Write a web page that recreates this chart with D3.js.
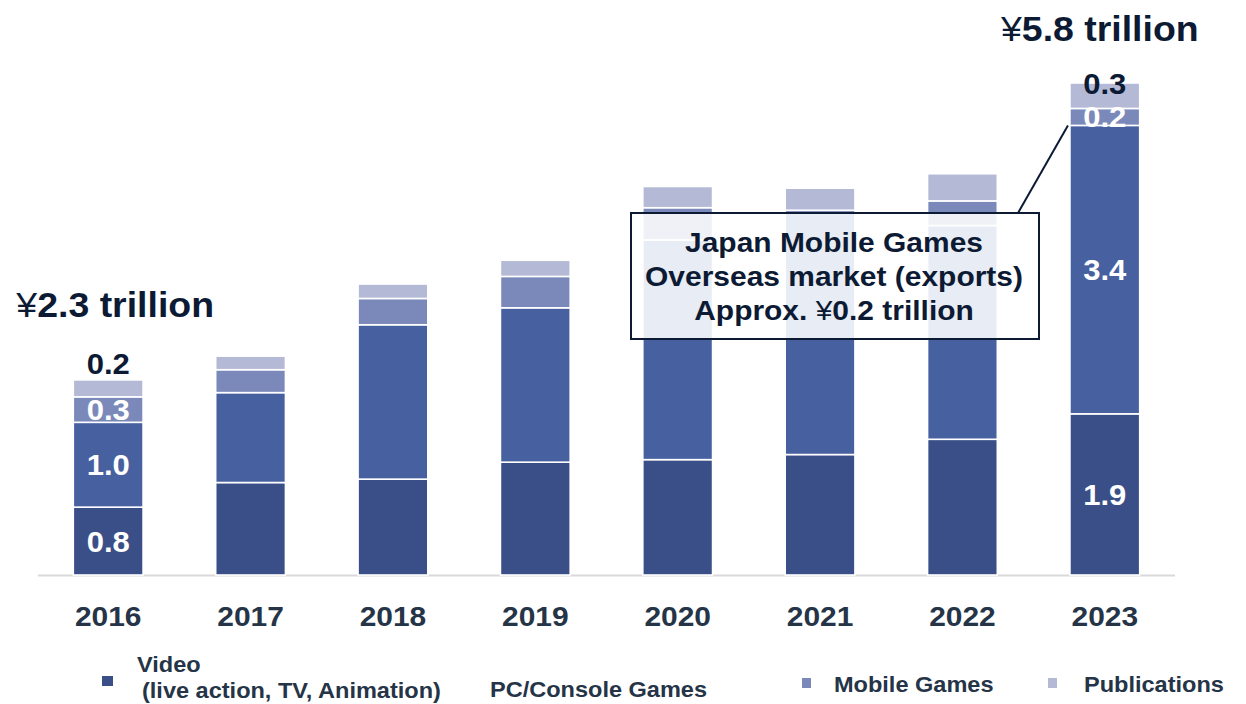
<!DOCTYPE html>
<html>
<head>
<meta charset="utf-8">
<script src="https://cdn.jsdelivr.net/npm/d3@7"></script>
<style>
  html, body { margin: 0; padding: 0; background: #fff; }
  svg { display: block; font-family: "Liberation Sans", Arial, sans-serif; }
</style>
</head>
<body>
<svg id="chart" width="1246" height="704"></svg>
<script>
// Overseas sales of Japanese content, ¥ trillion
const years = ["2016", "2017", "2018", "2019", "2020", "2021", "2022", "2023"];
const video        = [0.8, 1.09, 1.13, 1.33, 1.36, 1.42, 1.60, 1.9];
const pcConsole    = [1.0, 1.06, 1.82, 1.82, 2.59, 2.85, 2.52, 3.4];
const mobileGames  = [0.3, 0.27, 0.31, 0.37, 0.38, 0.03, 0.29, 0.2];
const publications = [0.2, 0.16, 0.17, 0.19, 0.25, 0.26, 0.32, 0.3];

const seriesKeys   = ["video", "pcConsole", "mobileGames", "publications"];
const seriesNames  = ["Video", "PC/Console Games", "Mobile Games", "Publications"];
const seriesColors = ["#3a4f87", "#4660a0", "#7b89ba", "#b4b9d5"];

const rows = years.map((y, i) => ({
  year: y,
  video: video[i],
  pcConsole: pcConsole[i],
  mobileGames: mobileGames[i],
  publications: publications[i]
}));

const svg = d3.select("#chart");
const SX = 1.07;               // slight horizontal widening of the lettering
const DARK = "#0c1a33";
const SLATE = "#253447";
const fmt = d3.format(".1f");

const x = d3.scaleBand().domain(years).range([37, 1176]).paddingInner(0.51).paddingOuter(0.255);
const y = d3.scaleLinear().domain([0, 5.8]).range([575, 83]);

const stack = d3.stack().keys(seriesKeys)(rows);

function label(x0, y0, str, size, fill, anchor) {
  return svg.append("text")
    .attr("transform", `translate(${x0},${y0}) scale(${SX},1)`)
    .attr("text-anchor", anchor || "middle")
    .attr("font-size", size)
    .attr("font-weight", "bold")
    .attr("fill", fill)
    .text(str);
}

// baseline
svg.append("line")
  .attr("x1", x.range()[0] + 1).attr("x2", x.range()[1] - 1)
  .attr("y1", y(0) + 0.5).attr("y2", y(0) + 0.5)
  .attr("stroke", "#d9d9d9").attr("stroke-width", 2);

// stacked bars
svg.append("g").selectAll("g")
  .data(stack).join("g")
  .attr("fill", (d, i) => seriesColors[i])
  .selectAll("rect")
  .data(d => d).join("rect")
  .attr("x", d => x(d.data.year))
  .attr("y", d => y(d[1]))
  .attr("width", x.bandwidth())
  .attr("height", d => y(d[0]) - y(d[1]))
  .attr("stroke", "#fff")
  .attr("stroke-width", 1.6);

// category labels
const axis = svg.append("g").attr("transform", `translate(0,${y(0)})`)
  .call(d3.axisBottom(x).tickSize(0).tickPadding(0));
axis.select(".domain").remove();
axis.selectAll("text")
  .attr("y", 0).attr("dy", 0)
  .attr("transform", function () {
    const t = d3.select(this.parentNode).attr("transform");
    return `translate(0,51) scale(${SX},1)`;
  })
  .attr("font-size", 28).attr("font-weight", "bold")
  .attr("font-family", "'Liberation Sans', Arial, sans-serif")
  .attr("fill", SLATE);

// value labels on the first and last year
function segLabels(yearIdx, topLabelOffset) {
  const yr = years[yearIdx];
  const cx = x(yr) + x.bandwidth() / 2;
  stack.forEach((layer, si) => {
    const d = layer[yearIdx];
    const v = d[1] - d[0];
    if (si === 3) {
      label(cx, y(d[1]) + topLabelOffset + 10.5, fmt(v), 29, DARK);
    } else {
      label(cx, (y(d[0]) + y(d[1])) / 2 + 10.5, fmt(v), 29, "#fff");
    }
  });
}
segLabels(0, -16);
segLabels(7, 0);

// totals
function total(i) { return video[i] + pcConsole[i] + mobileGames[i] + publications[i]; }
function totalLabel(i, dx, baseY) {
  const t = svg.append("text")
    .attr("transform", `translate(${x(years[i]) + x.bandwidth() / 2 + dx},${baseY}) scale(${SX},1)`)
    .attr("text-anchor", "middle")
    .attr("font-size", 35)
    .attr("fill", DARK);
  t.append("tspan").attr("font-weight", "normal").text("¥");
  t.append("tspan").attr("font-weight", "bold").text(fmt(total(i)) + " trillion");
}
totalLabel(0, 7, y(total(0)) - 63);
totalLabel(7, -5, y(total(7)) - 42);

// callout for mobile games exports
const box = { x: 631, y: 213, w: 408, h: 126 };
const i23 = 7;
svg.append("line")
  .attr("x1", box.x + box.w - 21).attr("y1", box.y)
  .attr("x2", x(years[i23]) - 2).attr("y2", y(video[i23] + pcConsole[i23]))
  .attr("stroke", DARK).attr("stroke-width", 2);
svg.append("rect")
  .attr("x", box.x).attr("y", box.y).attr("width", box.w).attr("height", box.h)
  .attr("fill", "#fff").attr("fill-opacity", 0.88)
  .attr("stroke", DARK).attr("stroke-width", 2);
const bx = box.x + box.w / 2 - 1;
label(bx, 252, "Japan Mobile Games", 28, DARK);
label(bx, 286, "Overseas market (exports)", 28, DARK);
const l3 = svg.append("text")
  .attr("transform", `translate(${bx},320) scale(${SX},1)`)
  .attr("text-anchor", "middle").attr("font-size", 28).attr("fill", DARK);
l3.append("tspan").attr("font-weight", "bold").text("Approx. ");
l3.append("tspan").attr("font-weight", "normal").text("¥");
l3.append("tspan").attr("font-weight", "bold").text(fmt(mobileGames[i23]) + " trillion");

// legend
const leg = svg.append("g");
leg.append("rect").attr("x", 102).attr("y", 676).attr("width", 11).attr("height", 10).attr("fill", seriesColors[0]);
label(137, 672, seriesNames[0], 22, SLATE, "start");
label(142, 698, "(live action, TV, Animation)", 22, SLATE, "start");
label(490, 697, seriesNames[1], 22, SLATE, "start");
leg.append("rect").attr("x", 802).attr("y", 678).attr("width", 9).attr("height", 10).attr("fill", seriesColors[2]);
label(834, 692, seriesNames[2], 22, SLATE, "start");
leg.append("rect").attr("x", 1048).attr("y", 678).attr("width", 9).attr("height", 10).attr("fill", seriesColors[3]);
label(1084, 692, seriesNames[3], 22, SLATE, "start");
</script>
</body>
</html>
